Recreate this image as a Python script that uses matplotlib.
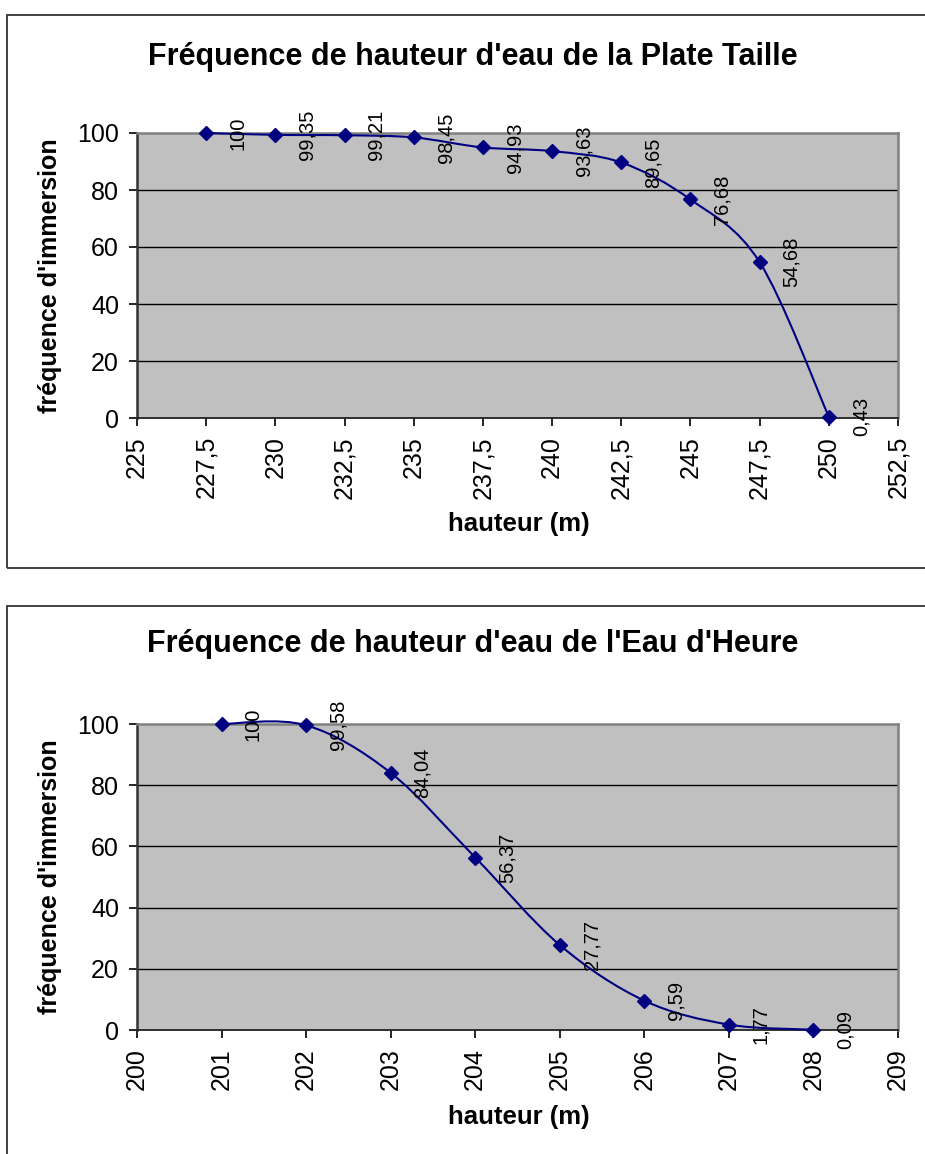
import matplotlib
matplotlib.use("Agg")
import matplotlib.pyplot as plt
from matplotlib.path import Path
from matplotlib.patches import PathPatch, Rectangle
from matplotlib.ticker import FuncFormatter, MultipleLocator

plt.rcParams['font.family'] = ['Liberation Sans', 'DejaVu Sans']

# ---- data ----
title1 = "Fréquence de hauteur d'eau de la Plate Taille"
height1 = [227.5, 230, 232.5, 235, 237.5, 240, 242.5, 245, 247.5, 250]
freq1 = [100, 99.35, 99.21, 98.45, 94.93, 93.63, 89.65, 76.68, 54.68, 0.43]
xlim1 = (225, 252.5)
xstep1 = 2.5

title2 = "Fréquence de hauteur d'eau de l'Eau d'Heure"
height2 = [201, 202, 203, 204, 205, 206, 207, 208]
freq2 = [100, 99.58, 84.04, 56.37, 27.77, 9.59, 1.77, 0.09]
xlim2 = (200, 209)
xstep2 = 1

xlabel = "hauteur (m)"
ylabel = "fréquence d'immersion"
yticks = [0, 20, 40, 60, 80, 100]

NAVY = '#000080'
W, H = 925, 1154
fig = plt.figure(figsize=(W / 100, H / 100), dpi=100)


def fmt_num(v):
    s = f"{v:g}"
    return s.replace('.', ',')


def smooth_path(xs, ys):
    n = len(xs)
    pts = list(zip(xs, ys))
    verts = [pts[0]]
    codes = [Path.MOVETO]
    for i in range(n - 1):
        p0 = pts[i - 1] if i > 0 else pts[i]
        p1 = pts[i]
        p2 = pts[i + 1]
        p3 = pts[i + 2] if i + 2 < n else pts[i + 1]
        c1 = (p1[0] + (p2[0] - p0[0]) / 6, p1[1] + (p2[1] - p0[1]) / 6)
        c2 = (p2[0] - (p3[0] - p1[0]) / 6, p2[1] - (p3[1] - p1[1]) / 6)
        verts += [c1, c2, p2]
        codes += [Path.CURVE4] * 3
    return Path(verts, codes)


def make_chart(rect, frame, title, title_y, xs, ys, xlim, xstep, xlab_y, ylab_x):
    # outer chart frame
    fig.add_artist(Rectangle((frame[0] / W, 1 - frame[3] / H),
                             (frame[2] - frame[0]) / W, (frame[3] - frame[1]) / H,
                             transform=fig.transFigure, fill=False,
                             edgecolor='#333333', lw=1.3, clip_on=False))
    ax = fig.add_axes([rect[0] / W, 1 - rect[3] / H,
                       (rect[2] - rect[0]) / W, (rect[3] - rect[1]) / H])
    ax.set_facecolor('#C0C0C0')
    ax.set_xlim(*xlim)
    ax.set_ylim(0, 100)
    ax.xaxis.set_major_locator(MultipleLocator(xstep))
    ax.set_yticks(yticks)
    ax.xaxis.set_major_formatter(FuncFormatter(lambda v, p: fmt_num(round(v, 2))))
    ax.yaxis.set_major_formatter(FuncFormatter(lambda v, p: fmt_num(v)))
    ax.tick_params(axis='x', rotation=90, labelsize=18, length=6, width=1.2,
                   pad=7, direction='out', colors='black')
    ax.tick_params(axis='y', labelsize=18, length=6, width=1.2, pad=7,
                   direction='out', colors='black')
    for y in yticks[1:-1]:
        ax.axhline(y, color='black', lw=1.0, zorder=1)
    ax.spines['top'].set_color('#808080')
    ax.spines['right'].set_color('#808080')
    ax.spines['top'].set_linewidth(1.8)
    ax.spines['right'].set_linewidth(1.8)
    ax.spines['left'].set_color('#333333')
    ax.spines['left'].set_linewidth(1.8)
    ax.spines['bottom'].set_color('#222222')
    ax.spines['bottom'].set_linewidth(1.3)

    patch = PathPatch(smooth_path(xs, ys), facecolor='none', edgecolor=NAVY,
                      lw=1.5, zorder=3, clip_on=False)
    ax.add_patch(patch)
    ax.plot(xs, ys, linestyle='none', marker='D', markersize=7.5,
            color=NAVY, zorder=4, clip_on=False)
    for x, y in zip(xs, ys):
        ax.annotate(fmt_num(y), (x, y), xytext=(23, 0), textcoords='offset points',
                    rotation=90, ha='center', va='center', fontsize=14.5,
                    color='black', zorder=5, annotation_clip=False)

    fig.text(473 / W, 1 - title_y / H, title, ha='center', va='baseline',
             fontsize=22, fontweight='bold')
    fig.text(519 / W, 1 - xlab_y / H, xlabel, ha='center', va='center',
             fontsize=18.5, fontweight='bold')
    fig.text(ylab_x / W, 1 - ((rect[1] + rect[3]) / 2) / H, ylabel, ha='center',
             va='center', rotation=90, fontsize=18, fontweight='bold')
    return ax


make_chart((137, 133, 898, 418), (7, 15, 960, 568), title1, 65,
           height1, freq1, xlim1, xstep1, 524, 50)
make_chart((137, 724, 898, 1030), (7, 606, 960, 1200), title2, 652,
           height2, freq2, xlim2, xstep2, 1117, 50)

fig.savefig('out.png', dpi=100, facecolor='white')
